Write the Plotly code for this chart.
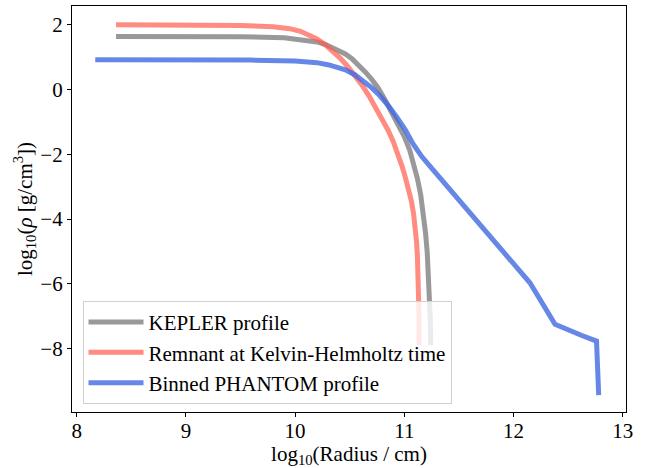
import plotly.graph_objects as go

# KEPLER profile
kepler_logr = [8.36, 9.0, 9.5, 9.9, 10.1, 10.2, 10.28, 10.33, 10.40, 10.46, 10.52, 10.58, 10.64, 10.70,
               10.76, 10.82, 10.88, 10.94, 11.00, 11.05, 11.09, 11.12, 11.15, 11.175, 11.195, 11.21,
               11.222, 11.232, 11.238, 11.242]
kepler_logrho = [1.64, 1.64, 1.63, 1.60, 1.53, 1.47, 1.39, 1.31, 1.22, 1.10, 0.95, 0.77, 0.55, 0.32,
                 0.05, -0.30, -0.68, -1.07, -1.45, -1.88, -2.32, -2.75, -3.25, -3.85, -4.45, -5.05,
                 -5.7, -6.4, -7.1, -7.9]

# Remnant at Kelvin-Helmholtz time
remnant_logr = [8.36, 9.0, 9.5, 9.8, 9.95, 10.05, 10.13, 10.20, 10.27, 10.34, 10.41, 10.48, 10.55,
                10.62, 10.68, 10.74, 10.80, 10.85, 10.90, 10.94, 10.98, 11.01, 11.04, 11.065, 11.085,
                11.10, 11.112, 11.12, 11.127, 11.131, 11.134, 11.135]
remnant_logrho = [2.0, 2.0, 1.98, 1.94, 1.88, 1.80, 1.69, 1.56, 1.40, 1.21, 0.98, 0.72, 0.42,
                  0.10, -0.22, -0.58, -0.95, -1.25, -1.62, -1.98, -2.38, -2.72, -3.08, -3.45, -3.85,
                  -4.25, -4.7, -5.15, -5.65, -6.2, -6.9, -7.9]

# Binned PHANTOM profile
phantom_logr = [8.17, 9.0, 9.6, 10.0, 10.2, 10.31, 10.40, 10.46, 10.55, 10.62, 10.70, 10.77, 10.85,
                10.93, 11.01, 11.08, 11.16, 11.25, 11.40, 11.60, 11.80, 11.95, 12.15, 12.38, 12.50,
                12.62, 12.76, 12.78]
phantom_logrho = [0.92, 0.92, 0.91, 0.88, 0.83, 0.76, 0.68, 0.61, 0.45, 0.27, 0.06, -0.17, -0.48,
                  -0.85, -1.25, -1.68, -2.07, -2.43, -3.02, -3.80, -4.62, -5.17, -5.97, -7.25, -7.43,
                  -7.59, -7.77, -9.44]

x_ticks = [8, 9, 10, 11, 12, 13]
y_ticks = [-8, -6, -4, -2, 0, 2]

FONT = "Times New Roman, Liberation Serif, Nimbus Roman, DejaVu Serif, serif"
FS = 21

fig = go.Figure()
fig.add_trace(go.Scatter(x=kepler_logr, y=kepler_logrho, mode="lines", name="KEPLER profile",
                         legendgroup="a", line=dict(color="rgba(128,128,128,0.8)", width=5)))
fig.add_trace(go.Scatter(x=remnant_logr, y=remnant_logrho, mode="lines", name="Remnant at Kelvin-Helmholtz time",
                         legendgroup="b", line=dict(color="rgba(255,90,75,0.7)", width=5)))
fig.add_trace(go.Scatter(x=phantom_logr, y=phantom_logrho, mode="lines", name="Binned PHANTOM profile",
                         legendgroup="c", line=dict(color="rgba(65,105,225,0.8)", width=5)))

axis_common = dict(showgrid=False, zeroline=False, showline=True, linecolor="black", linewidth=1.2,
                   mirror=True, ticks="outside", ticklen=4, tickwidth=1, tickcolor="black",
                   tickfont=dict(family=FONT, size=FS, color="black"))

fig.update_xaxes(range=[7.957, 13.03], tickvals=x_ticks, ticktext=[str(v) for v in x_ticks],
                 ticklabelstandoff=-4,
                 title=dict(text="log<sub>10</sub>(Radius / cm)", font=dict(family=FONT, size=FS, color="black"),
                            standoff=2), **axis_common)
fig.update_yaxes(range=[-9.96, 2.58], tickvals=y_ticks, ticktext=["\u2212" + str(-v) if v < 0 else str(v) for v in y_ticks],
                 title=dict(text="log<sub>10</sub>(<i>ρ</i> [g/cm<sup>3</sup>])", font=dict(family=FONT, size=FS, color="black"),
                            standoff=2), **axis_common)

fig.update_layout(
    width=652, height=468,
    margin=dict(l=72, r=26, t=6, b=56),
    plot_bgcolor="white", paper_bgcolor="white",
    font=dict(family=FONT, size=FS, color="black"),
    legend=dict(x=0.019, y=0.02, xanchor="left", yanchor="bottom",
                bgcolor="rgba(255,255,255,0.8)", bordercolor="#d0d0d0", borderwidth=1,
                tracegroupgap=0, itemwidth=55,
                font=dict(family=FONT, size=FS, color="black")),
)

fig.write_html("out.html")
